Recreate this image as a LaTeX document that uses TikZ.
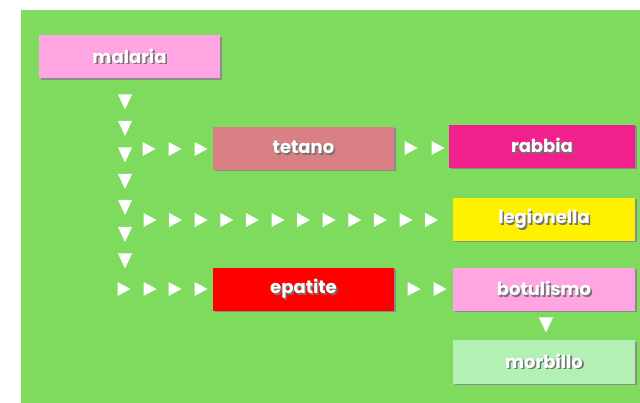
\documentclass[tikz,border=0pt]{standalone}
\usepackage{fontspec}
\setmainfont{Poppins}[UprightFont=* Bold]
\usepackage{tikz}
\usetikzlibrary{calc}
\definecolor{bggreen}{RGB}{126,219,93}
\definecolor{lpink}{RGB}{255,165,225}
\definecolor{rose}{RGB}{216,128,132}
\definecolor{deeppink}{RGB}{240,32,140}
\definecolor{yel}{RGB}{255,240,0}
\definecolor{lgreen}{RGB}{178,240,180}
\newcommand{\shtext}[1]{\makebox[0pt][l]{\hspace{1.6pt}\raisebox{-1.6pt}{\textcolor{black!55}{#1}}}\textcolor{white}{#1}}
\tikzset{
	disease/.style={fill=#1, minimum height=43pt, text=white, inner sep=0pt,
		font=\fontsize{18}{20}\selectfont},
}
\newcommand{\downtri}[2]{\fill[white] (#1-7,#2-7.5) -- (#1+7,#2-7.5) -- (#1,#2+7.5) -- cycle;}
\newcommand{\righttri}[2]{\fill[white] (#1-6.5,#2-7) -- (#1+6.5,#2) -- (#1-6.5,#2+7) -- cycle;}

\begin{document}
\begin{tikzpicture}[x=1pt,y=-1pt]
			%%%%% START %%%%%
			\useasboundingbox (0,0) rectangle (640,403);
			\fill[bggreen] (21,10) rectangle (640,403);
			
			% boxes, each with a thin shadow
			\foreach \cx/\cy/\w/\c/\nm in {129.5/57/181/lpink/malaria,
				303.5/148.5/181/rose/tetano,
				542/146.5/186/deeppink/rabbia,
				544/219.5/182/yel/legionella,
				303.5/289.5/181/red/epatite,
				544/289.5/182/lpink/botulismo,
				544/362/182/lgreen/morbillo}{
				\fill[black!45] (\cx-\w/2+1.5,\cy-21.5+1.5) rectangle (\cx+\w/2+1.5,\cy+21.5+1.5);
				\node[disease=\c, minimum width=\w pt] (\nm) at (\cx,\cy) {\shtext{\nm}};
			}
			
			% downward column under malaria
			\foreach \y in {102,128.5,155,181.5,207.5,234.5,261}{
				\downtri{125}{\y}
			}
			
			% row to tetano and on to rabbia
			\foreach \x in {149,175,201}{
				\righttri{\x}{149}
			}
			\foreach \x in {411,438}{
				\righttri{\x}{148}
			}
			
			% long row to legionella
			\foreach \i in {0,...,11}{
				\righttri{150+\i*25.6}{220}
			}
			
			% row to epatite and on to botulismo
			\foreach \x in {124,150,175,201}{
				\righttri{\x}{289}
			}
			\foreach \x in {414,440}{
				\righttri{\x}{289}
			}
			
			% botulismo to morbillo
			\downtri{546}{325}
			%%%%% END %%%%%
\end{tikzpicture}
\end{document}
